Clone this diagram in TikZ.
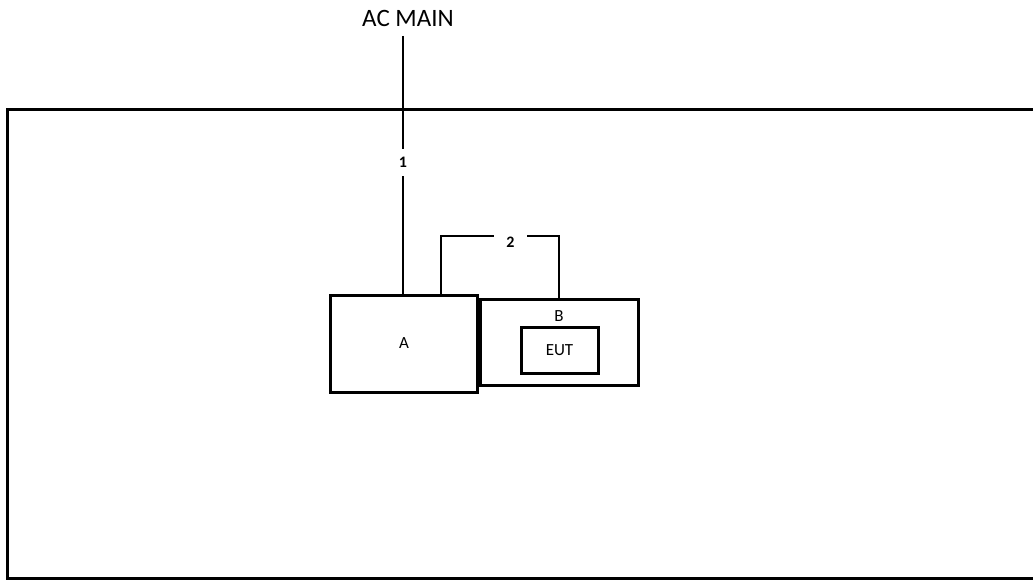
\documentclass[tikz,border=0pt]{standalone}
\usepackage{fontspec}
\setmainfont{Carlito}
\begin{document}
\begin{tikzpicture}[x=1pt,y=-1pt,
  box/.style={draw, line width=3pt, inner sep=0pt},
  wire/.style={line width=2pt},
  num/.style={fill=white, font=\fontsize{16}{16}\selectfont\bfseries, inner sep=0pt},
  lbl/.style={font=\fontsize{17}{17}\selectfont, inner sep=0pt}]
\useasboundingbox (0,0) rectangle (1033,580);
\begin{scope}
\clip (0,0) rectangle (1033,580);
\draw[line width=3pt] (1045,109.5) -- (7.5,109.5) -- (7.5,578.5) -- (1045,578.5);
\end{scope}
\node[font=\fontsize{25}{25}\selectfont, inner sep=0pt] (ac) at (408,18) {AC MAIN};
\node[box, minimum width=147pt, minimum height=97pt] (A) at (403.5,343.5) {};
\node[lbl] (Alab) at (404,343) {A};
\node[box, minimum width=158pt, minimum height=86pt] (B) at (559,342) {};
\node[lbl] (Blab) at (559,316) {B};
\node[box, minimum width=77pt, minimum height=46pt, font=\fontsize{17}{17}\selectfont] (EUT) at (559.5,350) {EUT};
\coordinate (top1) at (403,36);
\draw[wire] (top1) -- node[num, minimum width=12pt, minimum height=27pt, pos=0.49] (n1) {1} (top1 |- A.north);
\coordinate (c2) at (441,236);
\draw[wire] (c2 |- A.north) -- (c2) -| (B.north);
\node[num, minimum width=33pt, minimum height=14pt] (n2) at (510.5,242) {2};
\end{tikzpicture}
\end{document}
